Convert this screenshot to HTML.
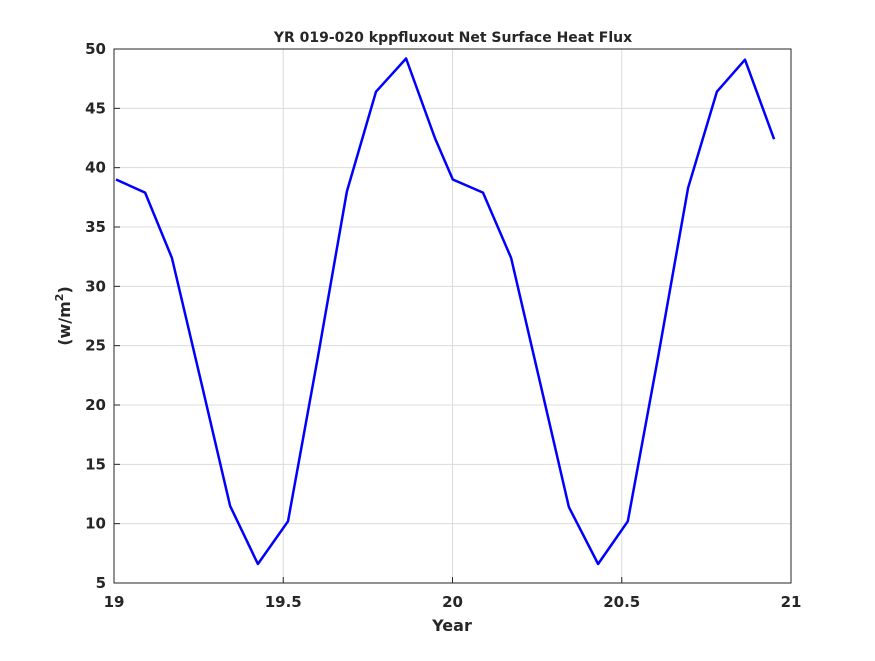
<!DOCTYPE html>
<html><head><meta charset="utf-8"><style>
html,body{margin:0;padding:0;background:#fff;}
text{font-family:"DejaVu Sans","Liberation Sans",sans-serif;font-weight:bold;fill:#262626;}
</style></head><body>
<svg id="chart" width="875" height="656" xmlns="http://www.w3.org/2000/svg">
<rect width="875" height="656" fill="#fff"/>
<g id="grid"></g>
<g id="axes"></g>
<path id="series" fill="none" stroke="#0000ff" stroke-width="2.5" stroke-linejoin="round"/>
<text x="453" y="42" text-anchor="middle" font-size="14">YR 019-020 kppfluxout Net Surface Heat Flux</text>
<text x="452" y="631" text-anchor="middle" font-size="16">Year</text>
<text transform="translate(70,316) rotate(-90)" text-anchor="middle" font-size="16">(w/m<tspan font-size="11" dy="-7">2</tspan><tspan dy="7">)</tspan></text>
</svg>
<script>
const times = [19.006,19.092,19.171,19.257,19.343,19.425,19.514,19.602,19.688,19.774,19.863,19.948,20.001,20.090,20.173,20.258,20.344,20.430,20.518,20.607,20.696,20.781,20.864,20.950];
const flux = [39.0,37.9,32.4,22.0,11.5,6.6,10.2,24.0,38.0,46.4,49.2,42.5,39.0,37.9,32.4,22.0,11.4,6.6,10.2,24.0,38.3,46.4,49.1,42.4];
const xTicks = [19,19.5,20,20.5,21];
const xTickLabels = ["19","19.5","20","20.5","21"];
const yTicks = [5,10,15,20,25,30,35,40,45,50];
const yTickLabels = ["5","10","15","20","25","30","35","40","45","50"];

const L=114,R=791,T=49,B=583,xmin=19,xmax=21,ymin=5,ymax=50;
const X=v=>L+(v-xmin)/(xmax-xmin)*(R-L);
const Y=v=>B-(v-ymin)/(ymax-ymin)*(B-T);
const NS="http://www.w3.org/2000/svg";
const grid=document.getElementById('grid'), axes=document.getElementById('axes');
function mk(tag,attrs,parent){const e=document.createElementNS(NS,tag);for(const k in attrs)e.setAttribute(k,attrs[k]);parent.appendChild(e);return e;}
xTicks.forEach((v,i)=>{
  const g=mk('line',{x1:X(v),x2:X(v),y1:T,y2:B,stroke:'#dcdcdc','stroke-width':1},grid);
  
  
  const t=mk('line',{x1:X(v),x2:X(v),y1:B,y2:B-6,stroke:'#262626'},axes);
  
  
  const tx=mk('text',{x:X(v),y:B+24,'text-anchor':'middle','font-size':15},axes);
  tx.textContent=xTickLabels[i];
  
  
});
yTicks.forEach((v,i)=>{
  const g=mk('line',{x1:L,x2:R,y1:Y(v),y2:Y(v),stroke:'#dcdcdc','stroke-width':1},grid);
  
  
  const t=mk('line',{x1:L,x2:L+6,y1:Y(v),y2:Y(v),stroke:'#262626'},axes);
  
  
  const tx=mk('text',{x:L-8,y:Y(v)+5,'text-anchor':'end','font-size':15},axes);
  tx.textContent=yTickLabels[i];
  
  
});
const box=mk('rect',{x:L,y:T,width:R-L,height:B-T,fill:'none',stroke:'#262626','stroke-width':1},axes);


document.getElementById('series').setAttribute('d',times.map((t,i)=>(i?'L':'M')+X(t).toFixed(1)+' '+Y(flux[i]).toFixed(1)).join(' '));
</script>
</body></html>
